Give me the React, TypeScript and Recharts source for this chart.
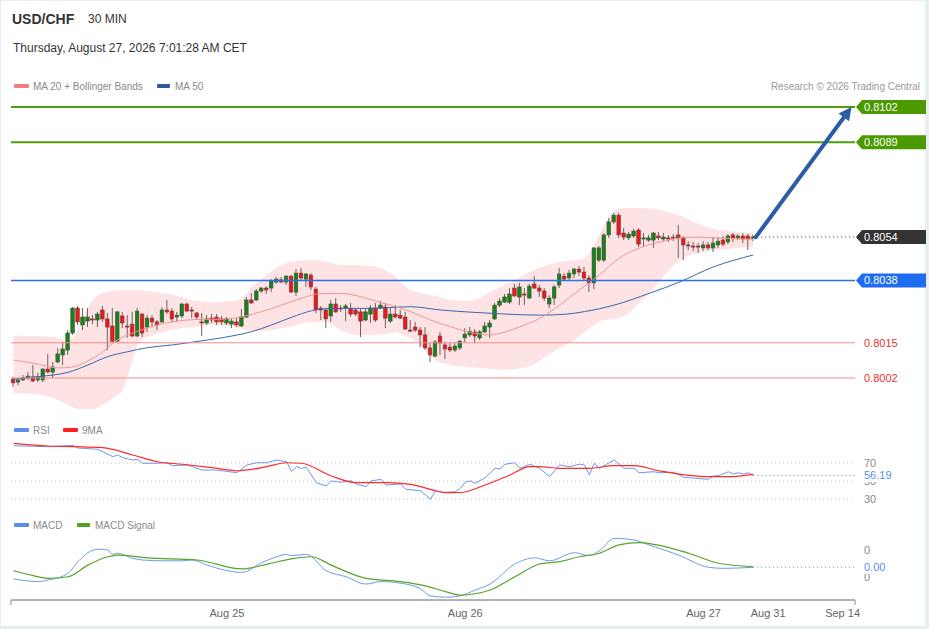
import React from 'react';
import { ComposedChart, Bar, Line, Area, XAxis, YAxis, ReferenceLine } from 'recharts';

const FONT = '"Liberation Sans", Arial, Helvetica, sans-serif';

// ---- candles (30 min), index 0..149 ----
const OPEN = [
  0.80016, 0.80005, 0.80013, 0.8002, 0.80024, 0.80013, 0.80013, 0.80053, 0.80042, 0.80079,
  0.80105, 0.80123, 0.80186, 0.80278, 0.80216, 0.8023, 0.80238, 0.80234, 0.80271, 0.80238,
  0.80212, 0.80156, 0.80249, 0.80212, 0.80219, 0.80175, 0.80256, 0.80208, 0.80241, 0.80227,
  0.80227, 0.80271, 0.80267, 0.80245, 0.80249, 0.80293, 0.80271, 0.8026, 0.80227, 0.80223,
  0.80241, 0.80245, 0.80238, 0.80223, 0.80219, 0.80227, 0.80212, 0.80245, 0.80308, 0.80308,
  0.80341, 0.80352, 0.80352, 0.80374, 0.80382, 0.80374, 0.80396, 0.80337, 0.80407, 0.80385,
  0.804, 0.80348, 0.80278, 0.80271, 0.80249, 0.80293, 0.80278, 0.80278, 0.80275, 0.80271,
  0.80264, 0.80234, 0.80256, 0.80278, 0.80278, 0.80282, 0.8023, 0.80256, 0.80252, 0.80245,
  0.80197, 0.80208, 0.80197, 0.80179, 0.80131, 0.80101, 0.80175, 0.80142, 0.80134, 0.80123,
  0.80131, 0.80168, 0.80179, 0.8019, 0.80168, 0.8019, 0.80208, 0.80238, 0.80289, 0.803,
  0.803, 0.80352, 0.80319, 0.8033, 0.80315, 0.80367, 0.80352, 0.80341, 0.80293, 0.80315,
  0.80363, 0.80396, 0.80389, 0.80404, 0.80422, 0.80411, 0.80389, 0.80371, 0.80455, 0.80455,
  0.80548, 0.80596, 0.80621, 0.80555, 0.80537, 0.80544, 0.80566, 0.80533, 0.80529, 0.80529,
  0.80544, 0.80533, 0.80537, 0.8054, 0.80548, 0.80537, 0.80511, 0.80507, 0.80507, 0.805,
  0.80511, 0.805, 0.80511, 0.80529, 0.80522, 0.80548, 0.80537, 0.80544, 0.80544, 0.80538,
];
const HIGH = [
  0.80024, 0.8002, 0.80031, 0.80042, 0.80068, 0.80039, 0.80057, 0.80109, 0.80079, 0.80131,
  0.80153, 0.80197, 0.80282, 0.80286, 0.80278, 0.80278, 0.80252, 0.80264, 0.80286, 0.8026,
  0.80278, 0.80267, 0.80264, 0.80252, 0.80264, 0.80278, 0.8026, 0.80252, 0.80252, 0.80234,
  0.80282, 0.80308, 0.80278, 0.80264, 0.80297, 0.80297, 0.80282, 0.80264, 0.8026, 0.80252,
  0.80256, 0.80256, 0.80249, 0.80245, 0.80241, 0.80241, 0.80275, 0.80319, 0.80334, 0.80348,
  0.80356, 0.80359, 0.80385, 0.80393, 0.80393, 0.804, 0.804, 0.80422, 0.80426, 0.80407,
  0.80407, 0.80356, 0.80286, 0.80278, 0.80308, 0.80315, 0.80289, 0.80293, 0.80297, 0.80278,
  0.80278, 0.80278, 0.80289, 0.80297, 0.80304, 0.80297, 0.80282, 0.80289, 0.80271, 0.80264,
  0.80234, 0.80227, 0.80208, 0.80208, 0.80149, 0.8016, 0.8019, 0.80153, 0.80149, 0.80149,
  0.8016, 0.80204, 0.80208, 0.80201, 0.80197, 0.80227, 0.80234, 0.80297, 0.80315, 0.8033,
  0.80352, 0.80367, 0.80371, 0.80352, 0.80367, 0.80396, 0.80363, 0.80352, 0.80326, 0.80363,
  0.80426, 0.80407, 0.80418, 0.80426, 0.80433, 0.8043, 0.804, 0.80503, 0.80507, 0.80555,
  0.8061, 0.80629, 0.80629, 0.80573, 0.80559, 0.8057, 0.80573, 0.80555, 0.80548, 0.80559,
  0.80559, 0.80555, 0.80548, 0.80551, 0.80585, 0.80544, 0.80525, 0.80522, 0.80518, 0.80525,
  0.80522, 0.8054, 0.8054, 0.80544, 0.80551, 0.80555, 0.80551, 0.80555, 0.80551, 0.80548,
];
const LOW = [
  0.79987, 0.79994, 0.80009, 0.80013, 0.80005, 0.80005, 0.80005, 0.80039, 0.8002, 0.80075,
  0.80068, 0.80105, 0.80179, 0.80216, 0.80197, 0.80208, 0.80219, 0.80208, 0.80227, 0.80123,
  0.80149, 0.80153, 0.80204, 0.80168, 0.80171, 0.80171, 0.80171, 0.8019, 0.80208, 0.80197,
  0.80223, 0.80256, 0.80227, 0.80227, 0.80241, 0.80264, 0.80241, 0.80238, 0.80175, 0.80216,
  0.80223, 0.80216, 0.80216, 0.80216, 0.80204, 0.80208, 0.80208, 0.80241, 0.80293, 0.80304,
  0.80334, 0.8033, 0.80337, 0.80367, 0.80371, 0.80363, 0.80334, 0.80323, 0.80382, 0.80356,
  0.80345, 0.8026, 0.80234, 0.80204, 0.80227, 0.8026, 0.80264, 0.8023, 0.80245, 0.80249,
  0.80171, 0.8023, 0.80223, 0.80227, 0.80275, 0.80204, 0.80223, 0.80241, 0.80238, 0.80197,
  0.8019, 0.8019, 0.80134, 0.80123, 0.80079, 0.80097, 0.80105, 0.8009, 0.80116, 0.80116,
  0.80123, 0.80153, 0.80171, 0.80149, 0.8016, 0.80186, 0.80168, 0.80234, 0.80282, 0.80297,
  0.80293, 0.80319, 0.80289, 0.80289, 0.80311, 0.80348, 0.80319, 0.80304, 0.80278, 0.80289,
  0.80352, 0.80378, 0.80382, 0.80389, 0.80396, 0.80378, 0.80337, 0.80348, 0.80448, 0.80448,
  0.80537, 0.80588, 0.80537, 0.80529, 0.80529, 0.80537, 0.80503, 0.80503, 0.80522, 0.805,
  0.80529, 0.80525, 0.80522, 0.80525, 0.80463, 0.80455, 0.80492, 0.80489, 0.80481, 0.80489,
  0.80492, 0.80485, 0.805, 0.80507, 0.80514, 0.80522, 0.80529, 0.80518, 0.80492, 0.80525,
];
const CLOSE = [
  0.80002, 0.80013, 0.8002, 0.80027, 0.80009, 0.80024, 0.80053, 0.80042, 0.80061, 0.80109,
  0.80127, 0.80186, 0.80278, 0.80227, 0.80245, 0.80245, 0.80234, 0.80256, 0.80238, 0.80208,
  0.80156, 0.80264, 0.80223, 0.80208, 0.80175, 0.80267, 0.80186, 0.80241, 0.80227, 0.80216,
  0.80271, 0.80264, 0.80238, 0.80252, 0.80293, 0.80267, 0.80267, 0.80245, 0.80223, 0.80238,
  0.80234, 0.80227, 0.80227, 0.80238, 0.8023, 0.80216, 0.80245, 0.80308, 0.80297, 0.80341,
  0.80352, 0.80345, 0.80378, 0.80385, 0.80374, 0.80396, 0.80337, 0.80407, 0.80389, 0.80404,
  0.80356, 0.80271, 0.80271, 0.80238, 0.80293, 0.80264, 0.80275, 0.80286, 0.80256, 0.80256,
  0.8023, 0.80264, 0.80278, 0.80234, 0.80289, 0.80241, 0.80256, 0.80245, 0.80241, 0.80201,
  0.80193, 0.80197, 0.80179, 0.80131, 0.80105, 0.80153, 0.80149, 0.80127, 0.80123, 0.80138,
  0.80156, 0.80182, 0.80193, 0.80175, 0.8019, 0.80212, 0.80223, 0.80289, 0.80304, 0.80319,
  0.8033, 0.80323, 0.80356, 0.80326, 0.80359, 0.80352, 0.80341, 0.80315, 0.80315, 0.80356,
  0.80404, 0.80385, 0.80407, 0.80422, 0.80411, 0.80389, 0.80371, 0.805, 0.805, 0.80548,
  0.80596, 0.80621, 0.80548, 0.8054, 0.80551, 0.80562, 0.80514, 0.80537, 0.80537, 0.80555,
  0.80537, 0.8054, 0.80533, 0.80537, 0.80537, 0.80511, 0.80507, 0.80503, 0.80503, 0.80511,
  0.805, 0.80518, 0.80525, 0.80514, 0.80544, 0.80537, 0.80544, 0.80533, 0.80533, 0.8054,
];

// ---- indicators [candle index, value] ----
const MA20: [number, number][] = [
  [0, 0.80086], [4, 0.80075], [9, 0.80057], [12, 0.80061], [15, 0.80083], [18, 0.80116], [20, 0.80149],
  [22, 0.80171], [25, 0.80193], [29, 0.80216], [33, 0.8023], [37, 0.80236], [42, 0.80237], [46, 0.80246],
  [50, 0.80265], [54, 0.80289], [58, 0.80314], [62, 0.80332], [66, 0.80332], [70, 0.8032], [74, 0.80298],
  [77, 0.80283], [80, 0.80265], [84, 0.80234], [88, 0.80209], [92, 0.80189], [96, 0.80179], [98, 0.80185],
  [102, 0.80209], [106, 0.8024], [110, 0.80289], [114, 0.80345], [118, 0.804], [122, 0.80462], [126, 0.80499],
  [130, 0.80521], [134, 0.80536], [138, 0.8054], [142, 0.80536], [149, 0.80532],
];
const MA50: [number, number][] = [
  [0, 0.80016], [6, 0.80027], [8, 0.80031], [11, 0.80041], [15, 0.80068], [19, 0.80099], [23, 0.80117],
  [27, 0.80132], [32, 0.80142], [36, 0.80152], [39, 0.8016], [44, 0.80175], [48, 0.80191], [52, 0.80216],
  [56, 0.80244], [60, 0.80268], [62, 0.80275], [66, 0.80277], [71, 0.80277], [77, 0.80281], [80, 0.80283],
  [86, 0.80271], [93, 0.80262], [99, 0.80256], [106, 0.80252], [111, 0.80255], [115, 0.80265], [121, 0.80289],
  [128, 0.80332], [134, 0.80373], [141, 0.8043], [149, 0.80474],
];
// [index, upper band, lower band]
const BOLL: [number, number, number][] = [
  [0, 0.80176, 0.79965], [4, 0.80175, 0.79961], [8, 0.80171, 0.79946], [11, 0.8016, 0.7992],
  [13, 0.80197, 0.79906], [14, 0.80241, 0.79906], [16, 0.80308, 0.79906], [18, 0.80334, 0.7992],
  [20, 0.80341, 0.79946], [22, 0.80345, 0.79976], [24, 0.80345, 0.80086], [25, 0.80345, 0.80142],
  [27, 0.80341, 0.80171], [30, 0.80334, 0.8019], [33, 0.80323, 0.80201], [36, 0.80308, 0.80208],
  [40, 0.803, 0.80216], [44, 0.80304, 0.80208], [46, 0.80315, 0.80201], [48, 0.80356, 0.80193],
  [50, 0.80385, 0.80193], [52, 0.80415, 0.80197], [54, 0.80437, 0.80204], [57, 0.80452, 0.80216],
  [60, 0.80455, 0.80227], [63, 0.80448, 0.80227], [66, 0.80437, 0.80197], [69, 0.80437, 0.80179],
  [72, 0.80433, 0.80179], [75, 0.80418, 0.80182], [77, 0.80393, 0.8019], [79, 0.80356, 0.80175],
  [82, 0.80334, 0.80142], [85, 0.80323, 0.80086], [88, 0.80308, 0.80068], [91, 0.80304, 0.80061],
  [94, 0.80315, 0.80057], [96, 0.80337, 0.80053], [98, 0.80356, 0.8005], [101, 0.80382, 0.80053],
  [104, 0.80411, 0.80064], [107, 0.80433, 0.80097], [110, 0.80448, 0.80131], [113, 0.80455, 0.8016],
  [115, 0.80463, 0.8019], [117, 0.80511, 0.80216], [119, 0.80585, 0.80234], [121, 0.80636, 0.80238],
  [123, 0.80647, 0.80249], [126, 0.80647, 0.80297], [129, 0.80644, 0.80352], [132, 0.80632, 0.80418],
  [135, 0.80614, 0.80463], [138, 0.80588, 0.80481], [142, 0.80566, 0.80492], [146, 0.80559, 0.805],
  [149, 0.80555, 0.80503],
];
const RSI: [number, number][] = [
  [0, 89.2], [4, 88.6], [7, 88.1], [12, 89.7], [13, 86.7], [17, 85.2], [20, 77.0], [21, 78.9], [22, 75.9],
  [24, 73.3], [25, 74.1], [26, 69.7], [29, 69.7], [31, 70.3], [32, 67.0], [35, 67.8], [38, 62.2], [41, 62.2],
  [45, 59.2], [47, 67.8], [49, 70.3], [51, 70.3], [53, 73.3], [55, 71.4], [56, 60.3], [57, 65.9], [58, 64.1],
  [59, 65.2], [61, 48.1], [63, 44.4], [64, 50.0], [66, 48.6], [68, 50.3], [69, 46.7], [71, 43.7], [72, 50.0],
  [74, 51.9], [75, 45.6], [78, 46.7], [79, 40.8], [82, 39.2], [84, 29.7], [85, 38.9], [87, 37.4], [89, 38.1],
  [90, 41.9], [91, 48.6], [92, 50.0], [93, 47.4], [95, 53.7], [97, 64.1], [98, 63.3], [99, 68.6], [101, 70.3],
  [102, 64.1], [104, 68.6], [106, 64.1], [108, 54.8], [110, 67.8], [112, 65.9], [114, 68.6], [115, 67.8],
  [116, 56.7], [117, 69.7], [118, 64.1], [120, 70.3], [121, 73.3], [123, 64.1], [125, 64.1], [126, 59.2],
  [129, 60.3], [130, 59.2], [133, 59.7], [135, 54.1], [140, 51.9], [141, 55.6], [142, 55.9], [144, 60.3],
  [145, 57.8], [146, 59.2], [147, 57.8], [148, 59.2], [149, 56.19],
];
const RSI_MA: [number, number][] = [
  [0, 91.9], [7, 88.9], [12, 88.1], [18, 87.0], [24, 78.9], [29, 71.4], [34, 68.6], [40, 64.8], [45, 61.4],
  [51, 65.9], [55, 70.3], [58, 69.7], [64, 55.6], [69, 48.1], [75, 48.1], [80, 46.3], [85, 39.2], [87, 37.0],
  [90, 37.2], [95, 45.6], [100, 56.7], [104, 65.9], [106, 65.9], [110, 64.1], [116, 64.1], [121, 67.0],
  [125, 67.0], [130, 61.4], [140, 54.8], [144, 54.8], [149, 57.4],
];
const MACD: [number, number][] = [
  [0, -0.00057], [5, -0.00067], [7, -0.00061], [11, -0.00036], [13, 0.00007], [15, 0.0004], [17, 0.00053],
  [19, 0.0005], [20, 0.00034], [21, 0.00038], [24, 0.00019], [26, 0.00013], [30, 0.0001], [34, 0.0001],
  [36, 0.00013], [39, -0.00006], [46, -0.00033], [50, 0.00003], [53, 0.00025], [55, 0.00034], [56, 0.00029],
  [59, 0.00034], [63, -0.00027], [67, -0.00049], [71, -0.00076], [74, -0.00067], [78, -0.00073],
  [82, -0.00094], [84, -0.0012], [87, -0.00125], [90, -0.0012], [93, -0.00098], [96, -0.00076],
  [101, -0.00002], [105, 0.00021], [108, 0.0001], [113, 0.0004], [116, 0.00029], [118, 0.00047],
  [121, 0.00093], [125, 0.00087], [128, 0.00069], [134, 0.00031], [140, -0.00014], [143, -0.00018],
  [149, -0.00014],
];
const MACD_SIGNAL: [number, number][] = [
  [0, -0.00027], [4, -0.00045], [7, -0.00055], [11, -0.00049], [15, -0.00006], [19, 0.00025], [21, 0.00031],
  [27, 0.00021], [37, 0.00013], [46, -0.0002], [51, -0.00003], [56, 0.00017], [60, 0.00025], [64, -0.00006],
  [71, -0.00055], [78, -0.00067], [83, -0.00083], [87, -0.00104], [90, -0.00117], [96, -0.00098],
  [101, -0.00049], [106, -0.00002], [110, 0.00007], [114, 0.00025], [118, 0.00038], [122, 0.00069],
  [126, 0.00077], [129, 0.00071], [136, 0.00038], [142, 0.00001], [149, -0.00012],
];

const LEVELS = [0.8102, 0.8089, 0.8038, 0.8015, 0.8002];
const LEVEL_KIND = ['target', 'target', 'pivot', 'support', 'support'];
const TARGET = 0.8102;
const X_TICKS = [43, 91, 139, 152, 167];
const X_LABELS = ['Aug 25', 'Aug 26', 'Aug 27', 'Aug 31', 'Sep 14'];
const RSI_TICKS = [70, 50, 30];
const MACD_TICKS = [0.0005, -0.0005];

// ---- derived tables ----
const X_DOMAIN: [number, number] = [-0.5, 169.5];
const PRICE_DOMAIN: [number, number] = [0.798835, 0.810643];
const RSI_DOMAIN: [number, number] = [23.333, 95.556];
const MACD_DOMAIN: [number, number] = [-0.0013519, 0.0012407];

const candles = OPEN.map((o, i) => ({ i, open: o, high: HIGH[i], low: LOW[i], close: CLOSE[i] }));
const ma20Data = MA20.map(([i, v]) => ({ i, v }));
const ma50Data = MA50.map(([i, v]) => ({ i, v }));
const bollData = BOLL.map(([i, hi, lo]) => ({ i, band: [lo, hi] }));
const rsiData = RSI.map(([i, v]) => ({ i, v }));
const rsiMaData = RSI_MA.map(([i, v]) => ({ i, v }));
const macdData = MACD.map(([i, v]) => ({ i, v }));
const signalData = MACD_SIGNAL.map(([i, v]) => ({ i, v }));

const lastIdx = CLOSE.length - 1;
const lastClose = CLOSE[lastIdx];
const lastRsi = RSI[RSI.length - 1][1];
const lastMacd = MACD[MACD.length - 1][1];

const C_UP = '#1f7c1f';
const C_UP_EDGE = '#355e35';
const C_DN = '#e8191c';
const C_DN_EDGE = '#7c3b3b';
const C_WICK = '#6f6060';
const C_ARROW = '#2c5ca6';

const LEVEL_STYLE: Record<string, { line: string; w: number; tag: string | null; text: string }> = {
  target: { line: '#4f9d0a', w: 2, tag: '#4a9a00', text: '#ffffff' },
  pivot: { line: '#2f6fe6', w: 1.5, tag: '#1f6cf0', text: '#ffffff' },
  support: { line: '#f58a8a', w: 1, tag: null, text: '#e5352f' },
};

function Candle(props: any) {
  const { x, y, width, height, payload } = props;
  if (!payload || x == null || y == null) return null;
  const { open, close, high, low } = payload;
  const top = Math.min(y, y + height);
  const bot = Math.max(y, y + height);
  const span = high - low;
  const k = span > 0 ? (bot - top) / span : 0;
  const yO = top + (high - open) * k;
  const yC = top + (high - close) * k;
  const cx = x + (width || 0) / 2;
  const up = close >= open;
  const bt = Math.min(yO, yC);
  const bh = Math.max(1, Math.abs(yC - yO));
  return (
    <g>
      <line x1={cx} x2={cx} y1={top} y2={bot} stroke={C_WICK} strokeWidth={1} />
      <rect x={cx - 1.8} y={bt} width={3.6} height={bh} fill={up ? C_UP : C_DN} stroke={up ? C_UP_EDGE : C_DN_EDGE} strokeWidth={0.6} />
    </g>
  );
}

function makeTag(text: string, bg: string | null, color: string, knockout = false) {
  return (props: any) => {
    const vb = props.viewBox || {};
    const x = (vb.x ?? 0) + (vb.width ?? 0) + 1;
    const y = vb.y ?? 0;
    return (
      <g>
        {bg ? (
          <polygon points={`${x},${y} ${x + 6},${y - 7} ${x + 70},${y - 7} ${x + 70},${y + 7} ${x + 6},${y + 7}`} fill={bg} />
        ) : null}
        {knockout ? <rect x={x + 4} y={y - 6.5} width={40} height={13} fill="#ffffff" /> : null}
        <text x={x + 8} y={y} dy="0.36em" fontSize={11} fill={color} style={{ fontFamily: FONT }}>
          {text}
        </text>
      </g>
    );
  };
}

function ArrowShape(props: any) {
  const { x1, y1, x2, y2 } = props;
  if ([x1, y1, x2, y2].some((v) => typeof v !== 'number' || isNaN(v))) return <g />;
  const ang = Math.atan2(y2 - y1, x2 - x1);
  const L = 13;
  const Wd = 6.5;
  const bx = x2 - L * Math.cos(ang);
  const by = y2 - L * Math.sin(ang);
  const px = -Math.sin(ang) * Wd;
  const py = Math.cos(ang) * Wd;
  return (
    <g>
      <line x1={x1} y1={y1} x2={bx} y2={by} stroke={C_ARROW} strokeWidth={4} strokeLinecap="round" />
      <polygon points={`${x2},${y2} ${bx + px},${by + py} ${bx - px},${by - py}`} fill={C_ARROW} />
    </g>
  );
}

function XTick(props: any) {
  const { x, y, payload } = props;
  const v = payload ? payload.value : undefined;
  const k = X_TICKS.indexOf(v);
  if (k >= 0) {
    return (
      <text x={x} y={y} dy={9} textAnchor="middle" fontSize={11} fill="#666666" style={{ fontFamily: FONT }}>
        {X_LABELS[k]}
      </text>
    );
  }
  return <line x1={x} x2={x} y1={y - 8} y2={y - 3} stroke="#b3b3b3" strokeWidth={1.5} />;
}

const fmt2 = (v: number) => (Math.abs(v) < 0.005 ? '0.00' : v.toFixed(2));

function Swatch({ x, y, w, color }: { x: number; y: number; w: number; color: string }) {
  return <rect x={x} y={y - 2} width={w} height={4} rx={1} fill={color} />;
}

export default function App() {
  return (
    <div style={{ position: 'absolute', left: 0, top: 0, width: 929, height: 629, background: '#e8edf0', overflow: 'hidden', fontFamily: FONT }}>
      <div style={{ position: 'absolute', left: 1, top: 1, width: 924, height: 625, background: '#ffffff' }} />

      {/* price panel */}
      <div style={{ position: 'absolute', left: 0, top: 0 }}>
        <ComposedChart width={929} height={415} data={candles} margin={{ top: 95, right: 74, bottom: 0, left: 11 }}>
          <XAxis dataKey="i" type="number" domain={X_DOMAIN} hide allowDataOverflow />
          <YAxis type="number" domain={PRICE_DOMAIN} hide allowDataOverflow />
          <Area data={bollData} dataKey="band" type="monotone" stroke="none" fill="#fde3e3" fillOpacity={1} isAnimationActive={false} dot={false} activeDot={false} />
          <Line data={ma50Data} dataKey="v" type="monotone" stroke="#3b67b0" strokeWidth={1} dot={false} activeDot={false} isAnimationActive={false} />
          <Line data={ma20Data} dataKey="v" type="monotone" stroke="#f39393" strokeWidth={1} dot={false} activeDot={false} isAnimationActive={false} />
          <Bar dataKey={(d: any) => [d.low, d.high]} barSize={4} shape={(p: any) => <Candle {...p} />} isAnimationActive={false} />
          {LEVELS.map((lv, k) => {
            const st = LEVEL_STYLE[LEVEL_KIND[k]];
            return (
              <ReferenceLine key={'lv' + k} y={lv} stroke={st.line} strokeWidth={st.w} label={makeTag(lv.toFixed(4), st.tag, st.text)} />
            );
          })}
          <ReferenceLine
            segment={[{ x: lastIdx, y: lastClose }, { x: X_DOMAIN[1], y: lastClose }]}
            stroke="#333333"
            strokeDasharray="1 3"
            label={makeTag(lastClose.toFixed(4), '#333333', '#ffffff')}
          />
          <ReferenceLine
            segment={[{ x: lastIdx + 0.5, y: lastClose }, { x: 168.8, y: TARGET }]}
            stroke={C_ARROW}
            strokeWidth={4}
            shape={(p: any) => <ArrowShape {...p} />}
          />
        </ComposedChart>
      </div>

      {/* RSI panel */}
      <div style={{ position: 'absolute', left: 0, top: 0 }}>
        <ComposedChart width={929} height={505} data={rsiData} margin={{ top: 440, right: 74, bottom: 0, left: 11 }}>
          <XAxis dataKey="i" type="number" domain={X_DOMAIN} hide allowDataOverflow />
          <YAxis type="number" domain={RSI_DOMAIN} hide allowDataOverflow />
          {RSI_TICKS.map((t) => (
            <ReferenceLine key={'r' + t} y={t} stroke="#c4c4c4" strokeDasharray="1 3" label={makeTag(String(t), null, '#8a8a8a')} />
          ))}
          <Line dataKey="v" type="linear" stroke="#6b97ec" strokeWidth={1} dot={false} activeDot={false} isAnimationActive={false} />
          <Line data={rsiMaData} dataKey="v" type="monotone" stroke="#ff2a2a" strokeWidth={1.2} dot={false} activeDot={false} isAnimationActive={false} />
          <ReferenceLine
            segment={[{ x: lastIdx, y: lastRsi }, { x: X_DOMAIN[1], y: lastRsi }]}
            stroke="#5b8def"
            strokeDasharray="1 3"
            label={makeTag(lastRsi.toFixed(2), null, '#5b8def', true)}
          />
        </ComposedChart>
      </div>

      {/* MACD panel */}
      <div style={{ position: 'absolute', left: 0, top: 0 }}>
        <ComposedChart width={929} height={629} data={macdData} margin={{ top: 530, right: 74, bottom: 0, left: 11 }}>
          <XAxis
            dataKey="i"
            type="number"
            domain={X_DOMAIN}
            allowDataOverflow
            height={29}
            ticks={[X_DOMAIN[0], ...X_TICKS, X_DOMAIN[1]]}
            interval={0}
            tickLine={false}
            axisLine={{ stroke: '#b3b3b3', strokeWidth: 2 }}
            tick={(p: any) => <XTick {...p} />}
          />
          <YAxis type="number" domain={MACD_DOMAIN} hide allowDataOverflow />
          {MACD_TICKS.map((t) => (
            <ReferenceLine key={'m' + t} y={t} stroke="none" strokeOpacity={0} label={makeTag(String(Math.round(t)), null, '#8a8a8a')} />
          ))}
          <Line dataKey="v" type="monotone" stroke="#6d9bea" strokeWidth={1} dot={false} activeDot={false} isAnimationActive={false} />
          <Line data={signalData} dataKey="v" type="monotone" stroke="#56a52a" strokeWidth={1.2} dot={false} activeDot={false} isAnimationActive={false} />
          <ReferenceLine
            segment={[{ x: lastIdx, y: lastMacd }, { x: X_DOMAIN[1], y: lastMacd }]}
            stroke="#5b8def"
            strokeDasharray="1 3"
            label={makeTag(fmt2(lastMacd), null, '#5b8def', true)}
          />
        </ComposedChart>
      </div>

      {/* titles & legends */}
      <svg width={929} height={629} style={{ position: 'absolute', left: 0, top: 0, pointerEvents: 'none', fontFamily: FONT }}>
        <text x={12} y={19} dy="0.35em" fontSize={14} fontWeight="bold" fill="#333333">USD/CHF</text>
        <text x={88} y={19} dy="0.35em" fontSize={12} fill="#333333">30 MIN</text>
        <text x={13} y={48} dy="0.35em" fontSize={12} fill="#333333">Thursday, August 27, 2026 7:01:28 AM CET</text>

        <Swatch x={14} y={86} w={15} color="#f77d7d" />
        <text x={33} y={86} dy="0.35em" fontSize={10} fill="#8a8a8a">MA 20 + Bollinger Bands</text>
        <Swatch x={157} y={86} w={13} color="#2f5aa0" />
        <text x={175} y={86} dy="0.35em" fontSize={10} fill="#8a8a8a">MA 50</text>
        <text x={920} y={86} dy="0.35em" fontSize={10} fill="#9a9a9a" textAnchor="end">Research © 2026 Trading Central</text>

        <Swatch x={14} y={430} w={15} color="#5b8def" />
        <text x={33} y={430} dy="0.35em" fontSize={10} fill="#8a8a8a">RSI</text>
        <Swatch x={63} y={430} w={15} color="#ff1f1f" />
        <text x={82} y={430} dy="0.35em" fontSize={10} fill="#8a8a8a">9MA</text>

        <Swatch x={14} y={525} w={15} color="#5b8def" />
        <text x={33} y={525} dy="0.35em" fontSize={10} fill="#8a8a8a">MACD</text>
        <Swatch x={77} y={525} w={13} color="#4ea31a" />
        <text x={95} y={525} dy="0.35em" fontSize={10} fill="#8a8a8a">MACD Signal</text>
      </svg>
    </div>
  );
}
